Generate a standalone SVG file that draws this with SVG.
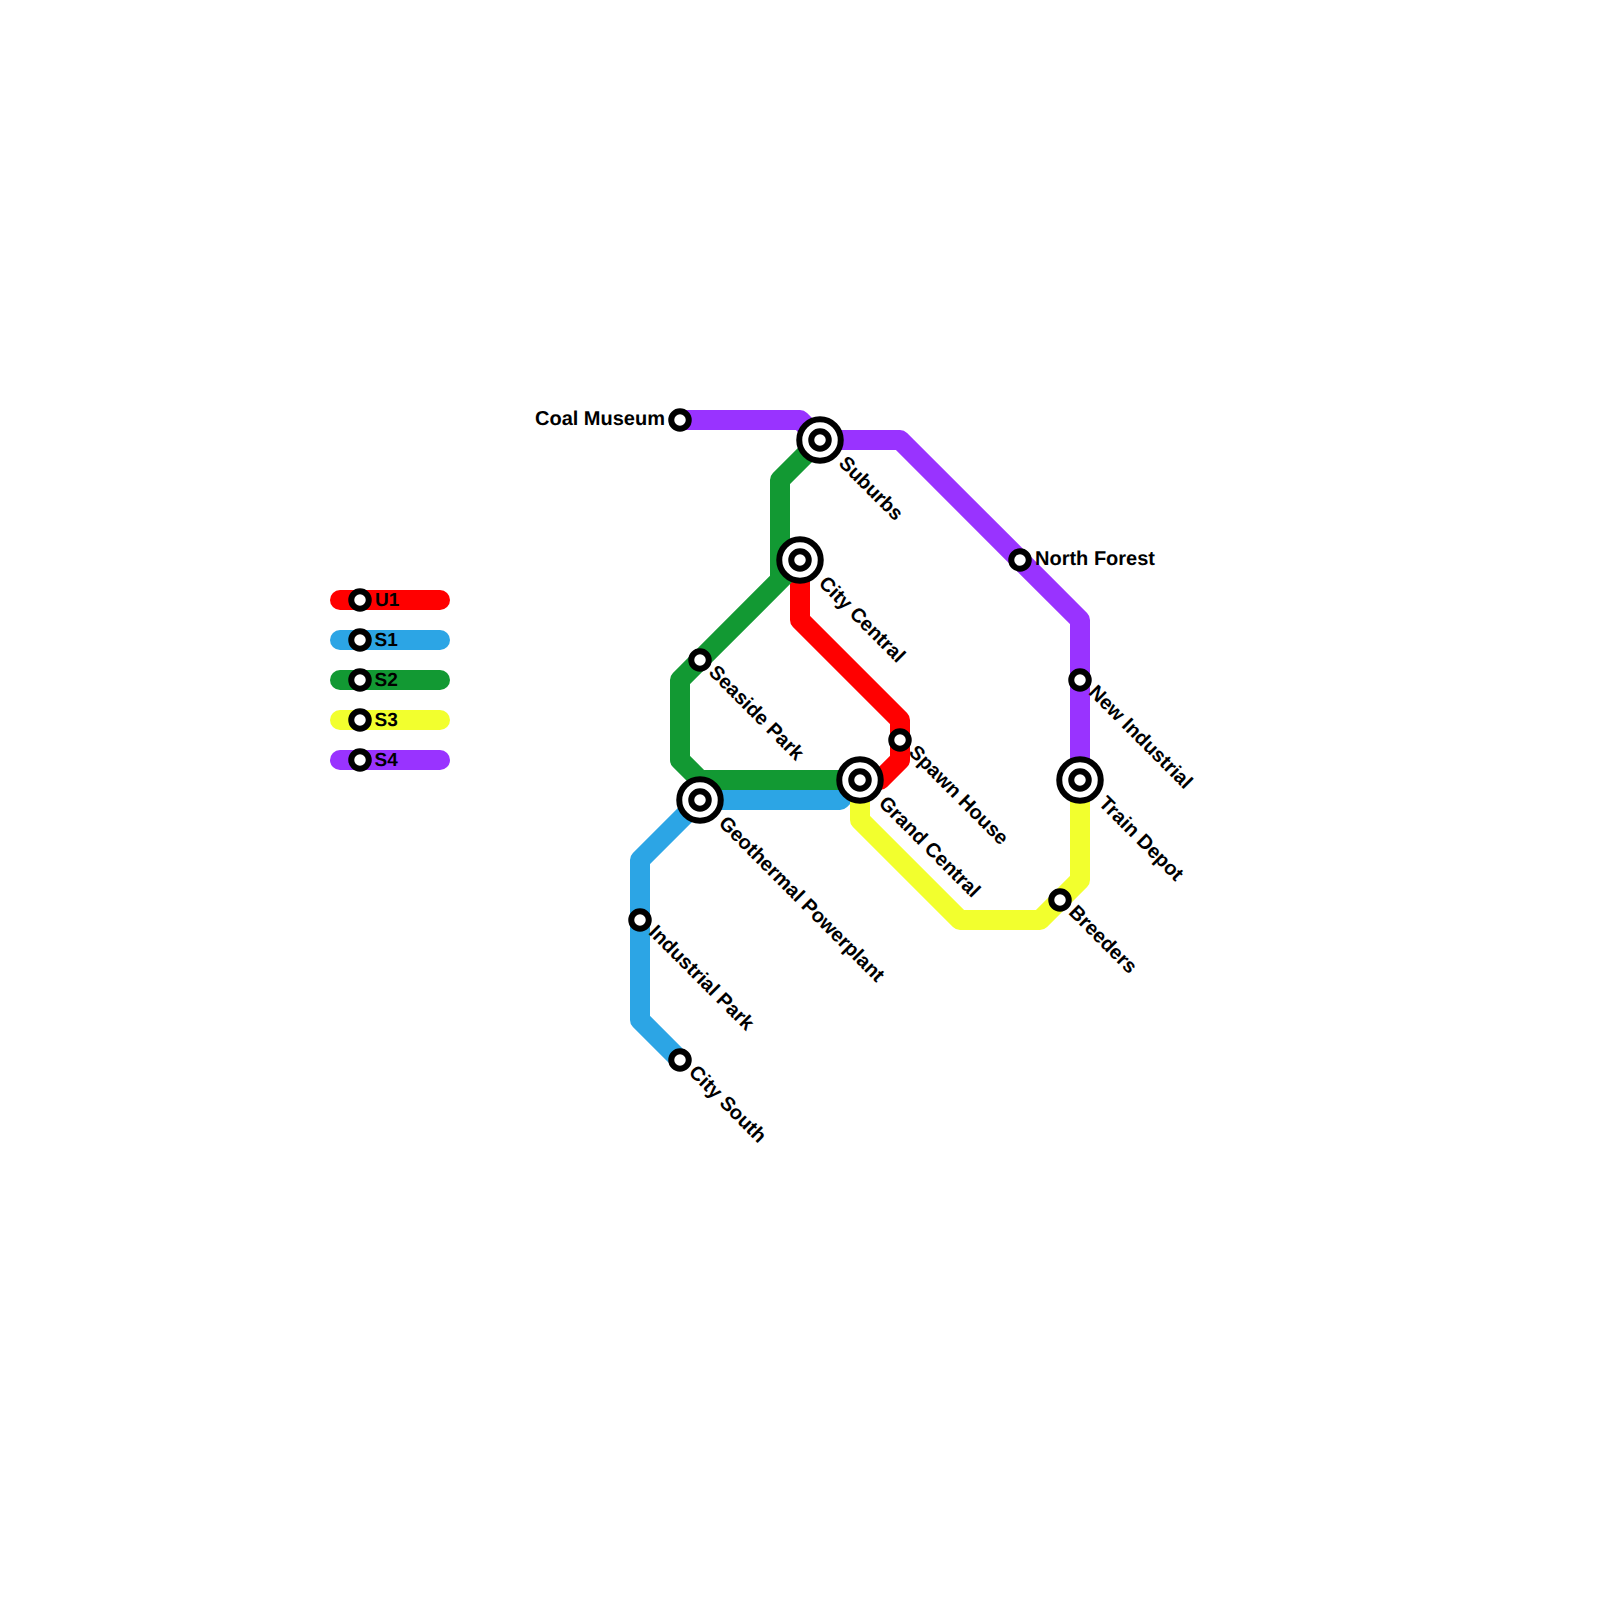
<svg xmlns="http://www.w3.org/2000/svg" width="1600" height="1600" viewBox="0 0 1600 1600">
<style>
.l{fill:none;stroke-width:20;stroke-linejoin:round;stroke-linecap:butt}
.k{stroke-linecap:round}
.red{stroke:#ff0000}.blue{stroke:#2ca5e5}.green{stroke:#129933}.yellow{stroke:#f2ff2e}.purple{stroke:#9933ff}
.s{fill:#fff;stroke:#000;stroke-width:6}
.b{fill:#fff;stroke:#000;stroke-width:6}
text{font-family:"Liberation Sans",Arial,sans-serif;font-weight:700;font-size:20px;fill:#000;text-rendering:geometricPrecision}
.t{font-size:19px}
</style>
<rect width="1600" height="1600" fill="#fff"/>
<g id="connectors">
<path class="l k red" d="M340 600H440"/>
<path class="l k blue" d="M340 640H440"/>
<path class="l k green" d="M340 680H440"/>
<path class="l k yellow" d="M340 720H440"/>
<path class="l k purple" d="M340 760H440"/>
<path class="l red" d="M800 560V620L900 720V760L880 780H860"/>
<path class="l blue" d="M680 1060L640 1020V860L700 800H840L860 780"/>
<path class="l green" d="M820 440L780 480V580"/>
<path class="l green" d="M800 560L680 680V760L700 780H860"/>
<path class="l yellow" d="M860 780V820L960 920H1040L1080 880V780"/>
<path class="l purple" d="M680 420H800L820 440H900L1080 620V780"/>
</g>
<g id="legend-u1"><circle class="s" cx="360" cy="600" r="8.75"/><text class="t" x="375" y="606">U1</text></g>
<g id="legend-s1"><circle class="s" cx="360" cy="640" r="8.75"/><text class="t" x="374.5" y="646">S1</text></g>
<g id="legend-s2"><circle class="s" cx="360" cy="680" r="8.75"/><text class="t" x="374.5" y="686">S2</text></g>
<g id="legend-s3"><circle class="s" cx="360" cy="720" r="8.75"/><text class="t" x="374.5" y="726">S3</text></g>
<g id="legend-s4"><circle class="s" cx="360" cy="760" r="8.75"/><text class="t" x="374.5" y="766">S4</text></g>
<g id="coal-museum"><circle class="s" cx="680" cy="420" r="8.75"/><text x="665" y="425" text-anchor="end">Coal Museum</text></g>
<g id="suburbs"><circle class="b" cx="820" cy="440" r="20.75"/><circle class="s" cx="820" cy="440" r="8.75"/><text transform="translate(842,460) rotate(45)" y="6">Suburbs</text></g>
<g id="city-central"><circle class="b" cx="800" cy="560" r="20.75"/><circle class="s" cx="800" cy="560" r="8.75"/><text transform="translate(822,580) rotate(45)" y="6">City Central</text></g>
<g id="north-forest"><circle class="s" cx="1020" cy="560" r="8.75"/><text x="1035" y="565">North Forest</text></g>
<g id="seaside-park"><circle class="s" cx="700" cy="660" r="8.75"/><text transform="translate(712,669) rotate(45)" y="6">Seaside Park</text></g>
<g id="new-industrial"><circle class="s" cx="1080" cy="680" r="8.75"/><text transform="translate(1092,689) rotate(45)" y="6">New Industrial</text></g>
<g id="spawn-house"><circle class="s" cx="900" cy="740" r="8.75"/><text transform="translate(912,749) rotate(45)" y="6">Spawn House</text></g>
<g id="grand-central"><circle class="b" cx="860" cy="780" r="20.75"/><circle class="s" cx="860" cy="780" r="8.75"/><text transform="translate(882,800) rotate(45)" y="6">Grand Central</text></g>
<g id="train-depot"><circle class="b" cx="1080" cy="780" r="20.75"/><circle class="s" cx="1080" cy="780" r="8.75"/><text transform="translate(1102,800) rotate(45)" y="6">Train Depot</text></g>
<g id="geothermal-powerplant"><circle class="b" cx="700" cy="800" r="20.75"/><circle class="s" cx="700" cy="800" r="8.75"/><text transform="translate(722,820) rotate(45)" y="6">Geothermal Powerplant</text></g>
<g id="breeders"><circle class="s" cx="1060" cy="900" r="8.75"/><text transform="translate(1072,909) rotate(45)" y="6">Breeders</text></g>
<g id="industrial-park"><circle class="s" cx="640" cy="920" r="8.75"/><text transform="translate(652,929) rotate(45)" y="6">Industrial Park</text></g>
<g id="city-south"><circle class="s" cx="680" cy="1060" r="8.75"/><text transform="translate(692,1069) rotate(45)" y="6">City South</text></g>
</svg>
